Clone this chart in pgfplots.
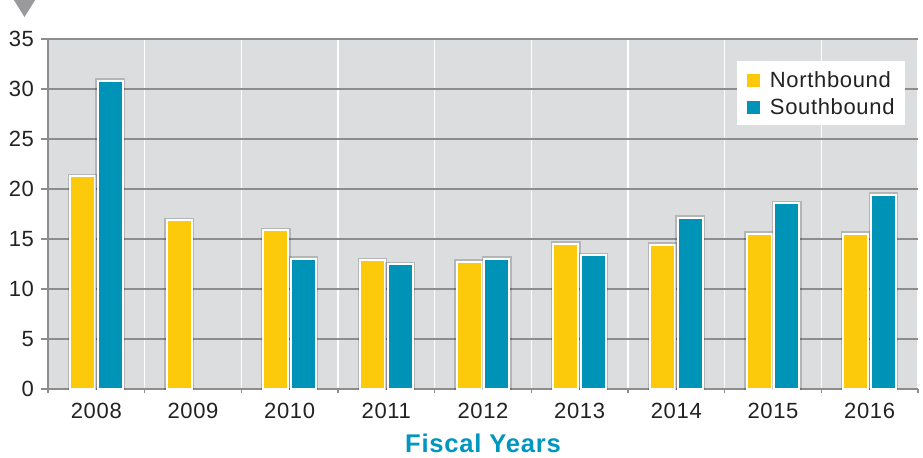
\documentclass[border=0pt]{standalone}
\usepackage{pgfplots}
\pgfplotsset{compat=1.18}
\usepackage{fontspec}
\setmainfont{Liberation Sans}[LetterSpace=3]
\definecolor{nb}{HTML}{FDC90B}
\definecolor{sb}{HTML}{0093B8}
\definecolor{bg}{HTML}{DCDDDF}
\definecolor{gridc}{HTML}{8D8D8D}
\definecolor{titlec}{HTML}{0096C0}
\definecolor{tri}{HTML}{9A9A9C}
\definecolor{txt}{HTML}{222222}

\pgfplotstableread{
x N
0 21.3
1 16.9
2 15.9
3 12.9
4 12.75
5 14.55
6 14.45
7 15.55
8 15.55
}\northdata
\pgfplotstableread{
x S
0 30.85
2 13.05
3 12.5
4 13.05
5 13.4
6 17.15
7 18.6
8 19.45
}\southdata

\begin{document}
\begin{tikzpicture}
\useasboundingbox (-24pt,-34pt) rectangle (437.5pt,194.5pt);
\begin{axis}[
  at={(0,0)}, anchor=south west,
  scale only axis, width=435pt, height=175pt,
  xmin=-0.5, xmax=8.5, ymin=0, ymax=35,
  ytick={0,5,...,35},
  xtick={-0.5,0.5,...,8.5},
  xticklabels={2008,2009,2010,2011,2012,2013,2014,2015,2016},
  x tick label as interval,
  axis lines*=left,
  axis line style={gridc, line width=1pt},
  axis background/.style={fill=bg},
  xmajorgrids, ymajorgrids,
  major x grid style={white, line width=0.8pt},
  major y grid style={gridc, line width=1pt},
  tick align=outside,
  major tick length=3.5pt,
  tick style={gridc, line width=0.8pt},
  xtick style={/pgfplots/major tick length=2pt},
  /pgf/number format/assume math mode=true,
  tick label style={font=\fontsize{11}{13}\selectfont, text=txt},
  xlabel={Fiscal Years},
  xlabel style={at={(axis description cs:0.5,0)}, anchor=base, yshift=-31.5pt,
    font=\bfseries\fontsize{12.8}{15}\selectfont, text=titlec},
  legend style={at={(0.985,0.937)}, anchor=north east, draw=none, fill=white,
    font=\fontsize{11}{13}\selectfont, text=txt,
    inner xsep=5pt, inner ysep=5.3pt, row sep=5.5pt,
    nodes={inner sep=0pt, text height=7.8pt, text depth=0pt},
    /tikz/every odd column/.append style={column sep=5pt}},
  legend cell align=left,
  legend image code/.code={\fill[#1] (0pt,-3.7pt) rectangle (6.6pt,2.9pt);},
]
\addplot[ybar, bar width=0.26, bar shift=-0.143, fill=nb, draw=white, line width=1pt,
  preaction={draw=black, draw opacity=0.18, line width=2.2pt}, forget plot]
  table[x=x, y=N] {\northdata};
\addplot[ybar, bar width=0.26, bar shift=0.143, fill=sb, draw=white, line width=1pt,
  preaction={draw=black, draw opacity=0.18, line width=2.2pt}, forget plot]
  table[x=x, y=S] {\southdata};
\addlegendimage{fill=nb, draw=none}
\addlegendentry{Northbound}
\addlegendimage{fill=sb, draw=none}
\addlegendentry{Southbound}
\end{axis}
\fill[tri] (-18pt,196pt) -- (-5.5pt,196pt) -- (-11.75pt,186pt) -- cycle;
\end{tikzpicture}
\end{document}
